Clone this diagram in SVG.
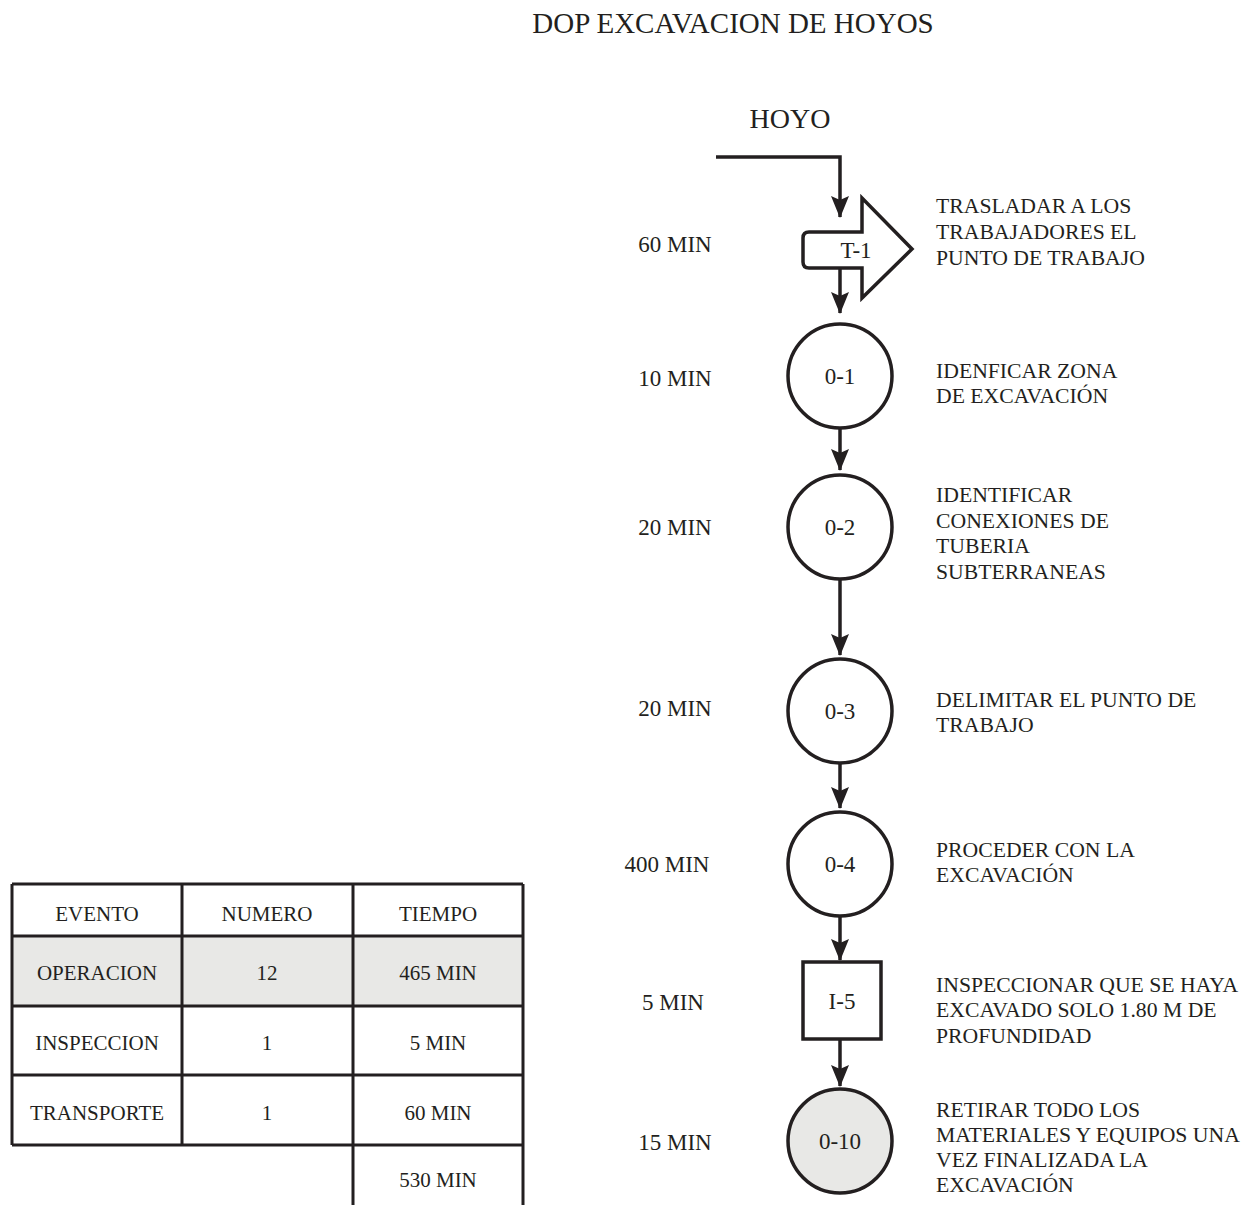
<svg xmlns="http://www.w3.org/2000/svg" width="1247" height="1205" viewBox="0 0 1247 1205">
<style>
text{font-family:"Liberation Serif","Times New Roman",serif;fill:#231f20;}
.t21{font-size:21px;}
.t22{font-size:21.7px;}
.n{font-size:23px;}
.t23{font-size:23px;}
.t28{font-size:28px;}
.t29{font-size:29px;}
.mid{text-anchor:middle;}
.shape{fill:#fff;stroke:#231f20;stroke-width:3.5;}
.conn{fill:none;stroke:#231f20;stroke-width:3.5;marker-end:url(#ah);}
.grid{fill:none;stroke:#231f20;stroke-width:3;}
</style>
<defs>
<marker id="ah" viewBox="0 0 22 18" refX="21" refY="9" markerWidth="22" markerHeight="18" markerUnits="userSpaceOnUse" orient="auto">
<path d="M0,0 L22,9 L0,18 L4,9 Z" fill="#231f20"/>
</marker>
</defs>
<rect width="1247" height="1205" fill="#fff"/>
<text class="t29 mid" x="733" y="33">DOP EXCAVACION DE HOYOS</text>
<text class="t28 mid" x="790" y="128">HOYO</text>

<g id="connectors">
<path class="conn" d="M716,157 H840 V217"/>
<path class="conn" d="M840,268 V313"/>
<path class="conn" d="M840,428 V470"/>
<path class="conn" d="M840,579 V655"/>
<path class="conn" d="M840,763 V808"/>
<path class="conn" d="M840,916 V960"/>
<path class="conn" d="M840,1039 V1086"/>
</g>

<g id="T-1">
<path class="shape" d="M862,232 L862,198 L912,249 L862,298 L862,268 L809,268 Q803,268 803,262 L803,238 Q803,232 809,232 Z"/>
<text class="n mid" x="856" y="258">T-1</text>
</g>
<g id="O-1">
<circle class="shape" cx="840" cy="376" r="52"/>
<text class="n mid" x="840" y="384">0-1</text>
</g>
<g id="O-2">
<circle class="shape" cx="840" cy="527" r="52"/>
<text class="n mid" x="840" y="535">0-2</text>
</g>
<g id="O-3">
<circle class="shape" cx="840" cy="711" r="52"/>
<text class="n mid" x="840" y="719">0-3</text>
</g>
<g id="O-4">
<circle class="shape" cx="840" cy="864" r="52"/>
<text class="n mid" x="840" y="872">0-4</text>
</g>
<g id="I-5">
<rect class="shape" x="803" y="962" width="78" height="77"/>
<text class="n mid" x="842" y="1009">I-5</text>
</g>
<g id="O-10">
<circle class="shape" cx="840" cy="1141" r="52" style="fill:#e8e8e6"/>
<text class="n mid" x="840" y="1149">0-10</text>
</g>

<g id="times">
<text class="t23 mid" x="675" y="252">60 MIN</text>
<text class="t23 mid" x="675" y="386">10 MIN</text>
<text class="t23 mid" x="675" y="535">20 MIN</text>
<text class="t23 mid" x="675" y="716">20 MIN</text>
<text class="t23 mid" x="667" y="872">400 MIN</text>
<text class="t23 mid" x="673" y="1010">5 MIN</text>
<text class="t23 mid" x="675" y="1150">15 MIN</text>
</g>

<g id="descriptions" class="t22">
<text x="936" y="213">TRASLADAR A LOS</text>
<text x="936" y="239">TRABAJADORES EL</text>
<text x="936" y="265">PUNTO DE TRABAJO</text>
<text x="936" y="378">IDENFICAR ZONA</text>
<text x="936" y="403">DE EXCAVACIÓN</text>
<text x="936" y="502">IDENTIFICAR</text>
<text x="936" y="528">CONEXIONES DE</text>
<text x="936" y="553">TUBERIA</text>
<text x="936" y="579">SUBTERRANEAS</text>
<text x="936" y="707">DELIMITAR EL PUNTO DE</text>
<text x="936" y="732">TRABAJO</text>
<text x="936" y="857">PROCEDER CON LA</text>
<text x="936" y="882">EXCAVACIÓN</text>
<text x="936" y="992">INSPECCIONAR QUE SE HAYA</text>
<text x="936" y="1017">EXCAVADO SOLO 1.80 M DE</text>
<text x="936" y="1043">PROFUNDIDAD</text>
<text x="936" y="1117">RETIRAR TODO LOS</text>
<text x="936" y="1142">MATERIALES Y EQUIPOS UNA</text>
<text x="936" y="1167">VEZ FINALIZADA LA</text>
<text x="936" y="1192">EXCAVACIÓN</text>
</g>

<g id="table">
<rect x="12" y="936" width="511" height="70" fill="#e8e8e6"/>
<path class="grid" d="M12,884 H523 M12,936 H523 M12,1006 H523 M12,1075 H523 M12,1145 H523 M12,884 V1145 M182,884 V1145 M353,884 V1205 M523,884 V1205"/>
<g class="t21 mid">
<text x="97" y="921">EVENTO</text>
<text x="267" y="921">NUMERO</text>
<text x="438" y="921">TIEMPO</text>
<text x="97" y="980">OPERACION</text>
<text x="267" y="980">12</text>
<text x="438" y="980">465 MIN</text>
<text x="97" y="1050">INSPECCION</text>
<text x="267" y="1050">1</text>
<text x="438" y="1050">5 MIN</text>
<text x="97" y="1120">TRANSPORTE</text>
<text x="267" y="1120">1</text>
<text x="438" y="1120">60 MIN</text>
<text x="438" y="1187">530 MIN</text>
</g>
</g>
</svg>
